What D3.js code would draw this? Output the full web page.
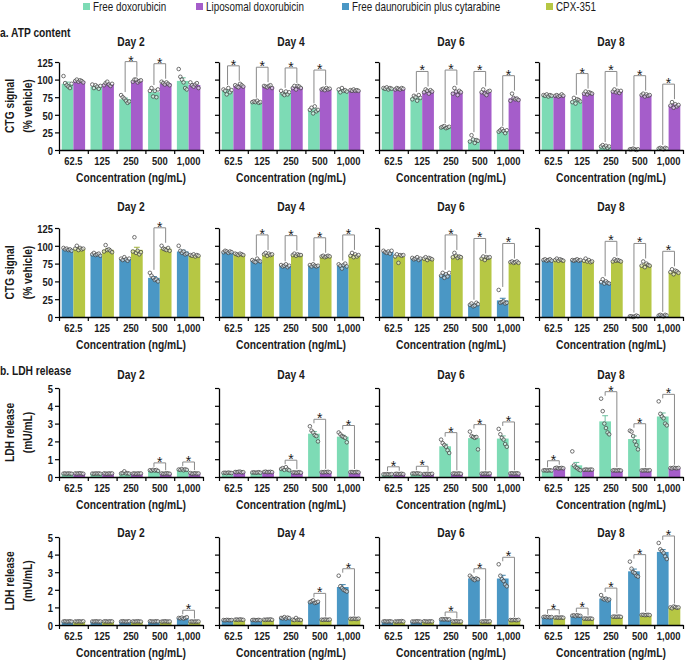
<!DOCTYPE html>
<html><head><meta charset="utf-8">
<script src="https://cdn.jsdelivr.net/npm/d3@7"></script>
<style>
body{margin:0;background:#fff;}
text{font-family:"Liberation Sans",Arial,sans-serif;}
</style></head><body>
<svg id="chart" width="685" height="662"></svg>
<script>
// ---------------- DATA ----------------
const concentrations = ["62.5", "125", "250", "500", "1,000"];
const days = ["Day 2", "Day 4", "Day 6", "Day 8"];
const seriesNames = ["Free doxorubicin", "Liposomal doxorubicin", "Free daunorubicin plus cytarabine", "CPX-351"];
const seriesColors = ["#7ddbb5", "#a55dca", "#4a97c5", "#b6c744"];
const atpTicks = [0, 25, 50, 75, 100, 125];
const ldhTicks = [0, 1, 2, 3, 4, 5];

// ATP content, free doxorubicin [A] vs liposomal doxorubicin [B]; per day, per concentration: [A points, B points]
const atpDox = [
  [ // Day 2
    [[105, 95, 92, 90, 88, 94], [98, 100, 97, 99, 98, 96]],
    [[93, 88, 92, 90, 87, 91], [92, 95, 97, 93, 91, 94]],
    [[78, 75, 73, 70, 67, 69], [97, 100, 100, 96, 98, 99]],
    [[84, 88, 76, 84, 75, 86], [97, 95, 93, 96, 94, 92]],
    [[115, 104, 100, 96, 88, 86], [96, 92, 90, 93, 95, 88]]
  ],
  [ // Day 4
    [[86, 84, 79, 88, 82, 85], [92, 90, 89, 94, 92, 90]],
    [[68, 69, 68, 70, 67, 68], [91, 90, 89, 91, 92, 88]],
    [[84, 80, 78, 83, 79, 82], [88, 91, 86, 91, 90, 88]],
    [[57, 60, 52, 62, 55, 57], [86, 87, 85, 88, 86, 87]],
    [[86, 82, 88, 84, 85, 83], [85, 84, 86, 84, 85, 84]]
  ],
  [ // Day 6
    [[88, 87, 89, 86, 88, 87], [86, 88, 87, 86, 88, 87]],
    [[72, 77, 75, 70, 78, 74], [82, 86, 84, 80, 85, 83]],
    [[32, 33, 34, 31, 32, 33], [80, 88, 83, 78, 84, 82]],
    [[12, 21, 15, 10, 14, 13], [82, 86, 80, 78, 83, 84]],
    [[26, 28, 30, 27, 24, 28], [70, 80, 74, 72, 73, 71]]
  ],
  [ // Day 8
    [[78, 77, 79, 76, 78, 77], [77, 78, 76, 77, 79, 77]],
    [[68, 74, 66, 72, 71, 69], [80, 83, 79, 82, 81, 80]],
    [[5, 7, 4, 6, 3, 5], [83, 86, 82, 84, 81, 84]],
    [[1, 1, 2, 1, 0, 1], [78, 80, 76, 79, 77, 78]],
    [[2, 3, 2, 1, 3, 2], [63, 68, 60, 65, 62, 64]]
  ]
];
const atpDoxSig = [[2, 3], [0, 1, 2, 3], [1, 2, 3, 4], [1, 2, 3, 4]];

// ATP content, free daunorubicin plus cytarabine [A] vs CPX-351 [B]
const atpCpx = [
  [
    [[97, 95, 96, 94, 95, 93], [96, 100, 94, 97, 95, 96]],
    [[88, 90, 87, 88, 89, 86], [92, 101, 94, 95, 93, 91]],
    [[82, 80, 84, 81, 79, 82], [92, 112, 90, 93, 88, 91]],
    [[62, 58, 55, 52, 53, 50], [100, 96, 95, 94, 97, 93]],
    [[100, 93, 90, 92, 88, 89], [87, 86, 88, 85, 87, 86]]
  ],
  [
    [[91, 93, 92, 90, 92, 91], [89, 88, 87, 89, 88, 87]],
    [[80, 78, 77, 82, 79, 78], [88, 90, 86, 89, 87, 88]],
    [[73, 71, 72, 74, 70, 72], [87, 89, 86, 88, 87, 87]],
    [[73, 71, 74, 72, 71, 72], [85, 86, 84, 85, 86, 85]],
    [[74, 72, 68, 73, 75, 71], [86, 90, 84, 88, 85, 87]]
  ],
  [
    [[93, 91, 90, 92, 89, 93], [85, 88, 76, 87, 86, 87]],
    [[83, 81, 82, 84, 80, 82], [82, 84, 80, 83, 82, 81]],
    [[58, 62, 55, 60, 57, 62], [84, 90, 86, 83, 85, 84]],
    [[17, 19, 15, 16, 20, 18], [82, 85, 80, 84, 83, 84]],
    [[38, 20, 21, 22, 19, 20], [77, 78, 76, 77, 78, 76]]
  ],
  [
    [[80, 81, 79, 80, 81, 79], [80, 82, 79, 81, 80, 79]],
    [[80, 79, 80, 81, 79, 80], [79, 82, 78, 80, 77, 78]],
    [[49, 53, 47, 50, 48, 47], [78, 81, 79, 80, 79, 78]],
    [[1, 1, 0, 1, 2, 1], [72, 78, 70, 75, 73, 72]],
    [[2, 3, 2, 1, 3, 2], [63, 67, 60, 65, 64, 62]]
  ]
];
const atpCpxSig = [[3], [1, 2, 3, 4], [2, 3, 4], [2, 3, 4]];

// LDH release, free doxorubicin [A] vs liposomal doxorubicin [B]
const ldhDox = [
  [
    [[0.19, 0.2, 0.18, 0.2, 0.19, 0.18], [0.2, 0.19, 0.2, 0.21, 0.19, 0.18]],
    [[0.19, 0.18, 0.2, 0.19, 0.2, 0.18], [0.2, 0.19, 0.18, 0.2, 0.19, 0.2]],
    [[0.2, 0.22, 0.32, 0.2, 0.21, 0.19], [0.19, 0.2, 0.18, 0.2, 0.19, 0.2]],
    [[0.38, 0.35, 0.4, 0.36, 0.39, 0.34], [0.2, 0.18, 0.19, 0.21, 0.2, 0.18]],
    [[0.42, 0.4, 0.45, 0.38, 0.43, 0.4], [0.22, 0.18, 0.2, 0.21, 0.19, 0.2]]
  ],
  [
    [[0.23, 0.24, 0.22, 0.25, 0.23, 0.22], [0.28, 0.27, 0.29, 0.3, 0.26, 0.27]],
    [[0.25, 0.26, 0.24, 0.25, 0.27, 0.24], [0.28, 0.3, 0.27, 0.28, 0.29, 0.27]],
    [[0.45, 0.5, 0.4, 0.55, 0.42, 0.38], [0.25, 0.26, 0.24, 0.25, 0.27, 0.24]],
    [[2.85, 2.6, 2.5, 2.35, 2.3, 2.0], [0.27, 0.26, 0.28, 0.27, 0.29, 0.26]],
    [[2.5, 2.4, 2.3, 2.25, 2.2, 1.95], [0.27, 0.28, 0.26, 0.27, 0.28, 0.26]]
  ],
  [
    [[0.15, 0.14, 0.16, 0.15, 0.14, 0.16], [0.17, 0.18, 0.16, 0.17, 0.18, 0.16]],
    [[0.19, 0.2, 0.18, 0.21, 0.19, 0.18], [0.17, 0.16, 0.18, 0.17, 0.16, 0.18]],
    [[2.1, 1.9, 1.8, 1.7, 1.5, 1.35], [0.19, 0.2, 0.18, 0.19, 0.2, 0.18]],
    [[2.55, 2.3, 2.25, 2.2, 2.25, 1.55], [0.19, 0.18, 0.2, 0.19, 0.18, 0.2]],
    [[2.7, 2.4, 2.2, 2.1, 1.85, 1.7], [0.2, 0.21, 0.19, 0.2, 0.21, 0.19]]
  ],
  [
    [[0.37, 0.38, 0.36, 0.37, 0.38, 0.36], [0.5, 0.52, 0.48, 0.5, 0.51, 0.49]],
    [[1.44, 0.65, 0.55, 0.5, 0.42, 0.38], [0.4, 0.42, 0.41, 0.4, 0.42, 0.41]],
    [[4.4, 3.7, 3.0, 2.75, 2.5, 2.4], [0.37, 0.38, 0.36, 0.37, 0.38, 0.36]],
    [[2.6, 2.55, 2.3, 2.0, 1.8, 1.55], [0.37, 0.36, 0.38, 0.37, 0.36, 0.38]],
    [[4.25, 3.55, 3.4, 3.3, 3.0, 2.9], [0.5, 0.48, 0.52, 0.5, 0.49, 0.51]]
  ]
];
const ldhDoxSig = [[3, 4], [2, 3, 4], [0, 1, 2, 3, 4], [0, 2, 3, 4]];

// LDH release, free daunorubicin plus cytarabine [A] vs CPX-351 [B]
const ldhCpx = [
  [
    [[0.2, 0.21, 0.19, 0.2, 0.21, 0.19], [0.2, 0.19, 0.21, 0.2, 0.19, 0.21]],
    [[0.2, 0.19, 0.21, 0.2, 0.19, 0.2], [0.2, 0.21, 0.19, 0.2, 0.21, 0.2]],
    [[0.2, 0.21, 0.2, 0.19, 0.2, 0.21], [0.2, 0.19, 0.2, 0.21, 0.2, 0.19]],
    [[0.21, 0.2, 0.19, 0.2, 0.21, 0.2], [0.19, 0.2, 0.21, 0.2, 0.19, 0.2]],
    [[0.4, 0.38, 0.42, 0.36, 0.4, 0.44], [0.19, 0.2, 0.18, 0.2, 0.19, 0.2]]
  ],
  [
    [[0.28, 0.27, 0.29, 0.28, 0.27, 0.28], [0.3, 0.31, 0.29, 0.32, 0.3, 0.29]],
    [[0.28, 0.29, 0.27, 0.28, 0.29, 0.27], [0.3, 0.29, 0.31, 0.3, 0.32, 0.29]],
    [[0.4, 0.38, 0.45, 0.36, 0.42, 0.39], [0.3, 0.28, 0.4, 0.29, 0.3, 0.28]],
    [[1.3, 1.35, 1.4, 1.25, 1.28, 1.32], [0.3, 0.29, 0.31, 0.3, 0.29, 0.31]],
    [[2.8, 2.2, 2.1, 2.0, 1.95, 1.9], [0.35, 0.34, 0.36, 0.35, 0.34, 0.36]]
  ],
  [
    [[0.2, 0.21, 0.19, 0.2, 0.21, 0.19], [0.2, 0.19, 0.21, 0.2, 0.22, 0.2]],
    [[0.2, 0.19, 0.2, 0.21, 0.2, 0.19], [0.21, 0.2, 0.19, 0.2, 0.21, 0.2]],
    [[0.32, 0.33, 0.31, 0.34, 0.3, 0.32], [0.2, 0.19, 0.21, 0.2, 0.19, 0.2]],
    [[2.8, 2.7, 2.6, 2.55, 2.65, 2.6], [0.2, 0.19, 0.21, 0.2, 0.19, 0.21]],
    [[3.45, 2.8, 2.6, 2.5, 2.3, 2.2], [0.28, 0.27, 0.29, 0.28, 0.27, 0.29]]
  ],
  [
    [[0.45, 0.47, 0.44, 0.46, 0.43, 0.45], [0.42, 0.43, 0.41, 0.42, 0.43, 0.41]],
    [[0.53, 0.55, 0.5, 0.56, 0.52, 0.52], [0.36, 0.37, 0.35, 0.36, 0.37, 0.35]],
    [[1.7, 1.5, 1.45, 1.5, 1.4, 1.45], [0.47, 0.48, 0.46, 0.47, 0.48, 0.46]],
    [[3.6, 3.2, 3.0, 2.95, 2.8, 2.75], [0.57, 0.58, 0.56, 0.57, 0.58, 0.56]],
    [[4.66, 4.3, 4.2, 4.1, 3.9, 3.75], [1.0, 0.95, 1.05, 1.02, 0.98, 1.0]]
  ]
];
const ldhCpxSig = [[4], [3, 4], [2, 3, 4], [0, 1, 2, 3, 4]];

// ---------------- LAYOUT ----------------
const svg = d3.select("#chart");
const SX = 0.82; // horizontal compression to mimic a condensed typeface
const panelLeft = [59, 219, 379, 539];
const panelW = 144;
const rows = [
  {data: atpDox, sig: atpDoxSig, series: [0, 1], ticks: atpTicks, y0: 150, yTop: 62, dayY: 42, yLabel: ["CTG signal", "(% vehicle)"], brk: 15},
  {data: atpCpx, sig: atpCpxSig, series: [2, 3], ticks: atpTicks, y0: 317, yTop: 228, dayY: 207, yLabel: ["CTG signal", "(% vehicle)"], brk: 15},
  {data: ldhDox, sig: ldhDoxSig, series: [0, 1], ticks: ldhTicks, y0: 477, yTop: 388, dayY: 375, yLabel: ["LDH release", "(mU/mL)"], brk: 4},
  {data: ldhCpx, sig: ldhCpxSig, series: [2, 3], ticks: ldhTicks, y0: 625, yTop: 537, dayY: 533, yLabel: ["LDH release", "(mU/mL)"], brk: 4}
];

function label(parent, x, y, str, size, weight, anchor, rotate) {
  return parent.append("text")
    .attr("transform", `translate(${x},${y})${rotate ? " rotate(-90)" : ""} scale(${SX},1)`)
    .attr("text-anchor", anchor || "start").attr("dominant-baseline", "central")
    .attr("font-size", size).attr("font-weight", weight || "normal").attr("fill", "#1a1a1a").text(str);
}

// legend
const legendX = [83, 196, 342, 546];
seriesNames.forEach((n, i) => {
  svg.append("rect").attr("x", legendX[i]).attr("y", 3).attr("width", 7).attr("height", 7).attr("fill", seriesColors[i]);
  label(svg, legendX[i] + 10, 7, n, 12, "normal");
});

// section labels
label(svg, 0, 33, "a. ATP content", 12.5, "bold");
label(svg, 0, 371, "b. LDH release", 12.5, "bold");

rows.forEach((row, ri) => {
  const y = d3.scaleLinear().domain([0, d3.max(row.ticks)]).range([row.y0, row.yTop]);
  const yc = (row.y0 + row.yTop) / 2;
  row.yLabel.forEach((t, k) => label(svg, 10 + k * 18, yc, t, 12.5, "bold", "middle", true));

  days.forEach((day, di) => {
    const left = panelLeft[di];
    const x = d3.scaleBand().domain(concentrations).range([left, left + panelW]);
    const xs = d3.scaleBand().domain([0, 1]).range([0, x.bandwidth()]).paddingOuter(0.23);
    const g = svg.append("g");

    const stats = [];
    concentrations.forEach((c, ci) => {
      stats[ci] = [];
      [0, 1].forEach(s => {
        const pts = row.data[di][ci][s];
        const m = d3.mean(pts);
        const sem = d3.deviation(pts) / Math.sqrt(pts.length);
        const col = seriesColors[row.series[s]];
        const bx = x(c) + xs(s), bw = xs.bandwidth();
        stats[ci][s] = {cx: bx + bw / 2, top: Math.max(d3.max(pts), m + sem)};
        g.append("rect").attr("x", bx).attr("y", y(m)).attr("width", bw)
          .attr("height", y(0) - y(m)).attr("fill", col);
        const ec = d3.color(col).darker(0.35);
        g.append("line").attr("x1", bx + bw / 2).attr("x2", bx + bw / 2)
          .attr("y1", y(m)).attr("y2", y(m + sem)).attr("stroke", ec).attr("stroke-width", 1);
        g.append("line").attr("x1", bx + bw * 0.25).attr("x2", bx + bw * 0.75)
          .attr("y1", y(m + sem)).attr("y2", y(m + sem)).attr("stroke", ec).attr("stroke-width", 1);
        pts.forEach((v, i) => {
          g.append("circle").attr("cx", bx + 1 + (bw - 2) * (i + 0.5) / pts.length).attr("cy", y(v))
            .attr("r", 1.8).attr("fill", "#fff").attr("fill-opacity", 0.55)
            .attr("stroke", "#444").attr("stroke-width", 0.75);
        });
      });
    });

    // significance brackets
    row.sig[di].forEach(ci => {
      const a = stats[ci][0], b = stats[ci][1];
      const ya = y(a.top) - 3, yb = y(b.top) - 3;
      const top = Math.min(ya, yb) - row.brk;
      g.append("path").attr("d", `M${a.cx},${ya}V${top}H${b.cx}V${yb}`)
        .attr("fill", "none").attr("stroke", "#8a8a8a").attr("stroke-width", 1);
      g.append("text").attr("x", (a.cx + b.cx) / 2).attr("y", top + 4)
        .attr("text-anchor", "middle").attr("font-size", 14).attr("fill", "#1a1a1a")
        .style("font-family", '"Liberation Sans",Arial,sans-serif').text("*");
    });

    // y axis
    const yAx = g.append("g").attr("transform", `translate(${left},0)`)
      .call(d3.axisLeft(y).tickValues(row.ticks).tickSize(4).tickSizeOuter(0).tickPadding(2)
        .tickFormat(di === 0 ? d3.format("d") : ""));
    yAx.select(".domain").attr("stroke-width", 1.3);
    yAx.selectAll(".tick line").attr("stroke-width", 1.2);
    yAx.selectAll(".tick text").attr("x", null).attr("dy", null)
      .attr("transform", `translate(-6,0) scale(${SX},1)`).attr("dominant-baseline", "central")
      .attr("font-size", 11.5).attr("font-weight", "bold").attr("fill", "#1a1a1a")
      .style("font-family", '"Liberation Sans",Arial,sans-serif');

    // x axis: boundary ticks
    const xb = d3.scaleLinear().domain([0, concentrations.length]).range([left, left + panelW]);
    const xAx = g.append("g").attr("transform", `translate(0,${row.y0})`)
      .call(d3.axisBottom(xb).tickValues(d3.range(concentrations.length + 1)).tickSize(4).tickSizeOuter(0).tickFormat(""));
    xAx.select(".domain").attr("stroke-width", 1.3);
    xAx.selectAll(".tick line").attr("stroke-width", 1.2);
    // x axis category labels
    const xl = g.append("g").attr("transform", `translate(0,${row.y0})`)
      .call(d3.axisBottom(x).tickSize(0));
    xl.select(".domain").remove();
    xl.selectAll(".tick text").attr("y", null).attr("dy", null)
      .attr("transform", `translate(0,11) scale(${SX},1)`).attr("dominant-baseline", "central")
      .attr("font-size", 11.5).attr("font-weight", "bold").attr("fill", "#1a1a1a")
      .style("font-family", '"Liberation Sans",Arial,sans-serif');

    // day title & axis title
    label(g, left + panelW / 2, row.dayY, day, 12.5, "bold", "middle");
    label(g, left + panelW / 2, row.y0 + 28, "Concentration (ng/mL)", 12.5, "bold", "middle");
  });
});
</script></body></html>
